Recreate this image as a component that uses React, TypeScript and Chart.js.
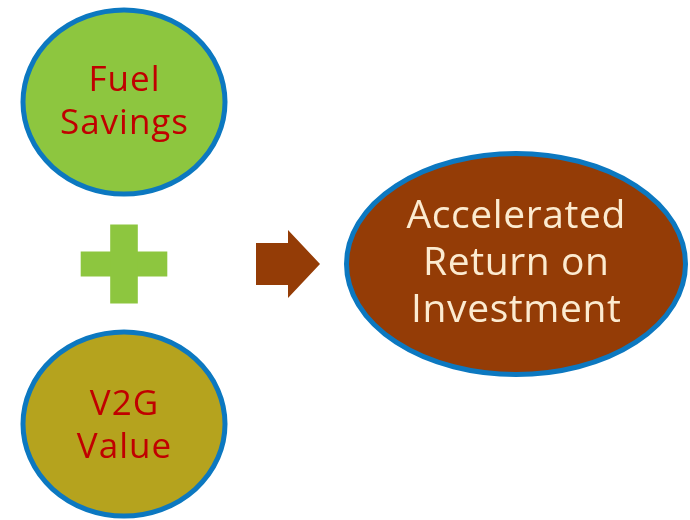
import React, { useEffect, useRef } from "react";
import { Chart, registerables } from "chart.js";

Chart.register(...registerables);

// Diagram coordinate space (one unit per pixel of the 690x520 picture)
const nodeLabels: string[][] = [["Fuel", "Savings"], ["V2G", "Value"], ["Accelerated", "Return on", "Investment"]];
const nodeX = [124, 124, 516];
const nodeY = [102, 424, 264];
const nodeRX = [101, 101, 169.5];
const nodeRY = [92, 92, 110.5];
const nodeFill = ["#8DC63F", "#B5A31E", "#943C06"];
const nodeText = ["#C00000", "#C00000", "#FCEBD0"];
const nodeFont = [35, 35, 39];
const nodeSpacing = [1, 1, 0.6];
const nodeLine = [43, 43, 47];
const nodeTextDy = [-1.5, 0, -2.5];

// plus sign: center, horizontal half-length/half-thickness, vertical half-length/half-thickness
const plusCenter = [124, 264];
const plusArms = [43.3, 12.5, 39.5, 13.8];
// arrow: shaft x0, head base x, tip x, center y, shaft half height, head half height
const arrowShape = [256, 288, 320, 264, 21, 34];

const BORDER = "#0C78C0";

const diagramPlugin = {
  id: "diagram",
  afterDatasetsDraw(chart: any) {
    const { ctx } = chart;
    const xs = chart.scales.x;
    const ys = chart.scales.y;
    const px = (v: number) => xs.getPixelForValue(v);
    const py = (v: number) => ys.getPixelForValue(v);
    ctx.save();
    // plus sign
    const [pcx, pcy] = plusCenter;
    const [hl, ht, vl, vt] = plusArms;
    ctx.fillStyle = "#8DC63F";
    ctx.fillRect(px(pcx - hl), py(pcy - ht), px(pcx + hl) - px(pcx - hl), py(pcy + ht) - py(pcy - ht));
    ctx.fillRect(px(pcx - vt), py(pcy - vl), px(pcx + vt) - px(pcx - vt), py(pcy + vl) - py(pcy - vl));
    // arrow
    const [ax0, ax1, ax2, acy, sh, hh] = arrowShape;
    ctx.fillStyle = "#943C06";
    ctx.beginPath();
    ctx.moveTo(px(ax0), py(acy - sh));
    ctx.lineTo(px(ax1), py(acy - sh));
    ctx.lineTo(px(ax1), py(acy - hh));
    ctx.lineTo(px(ax2), py(acy));
    ctx.lineTo(px(ax1), py(acy + hh));
    ctx.lineTo(px(ax1), py(acy + sh));
    ctx.lineTo(px(ax0), py(acy + sh));
    ctx.closePath();
    ctx.fill();
    // nodes
    for (let i = 0; i < nodeX.length; i++) {
      const cx = px(nodeX[i]);
      const cy = py(nodeY[i]);
      const rx = Math.abs(px(nodeX[i] + nodeRX[i]) - cx);
      const ry = Math.abs(py(nodeY[i] + nodeRY[i]) - cy);
      ctx.beginPath();
      ctx.ellipse(cx, cy, rx, ry, 0, 0, Math.PI * 2);
      ctx.fillStyle = nodeFill[i];
      ctx.fill();
      ctx.lineWidth = 5;
      ctx.strokeStyle = BORDER;
      ctx.stroke();
      const fs = nodeFont[i];
      ctx.font = `${fs}px "Open Sans", sans-serif`;
      try {
        (ctx as any).letterSpacing = `${nodeSpacing[i]}px`;
      } catch (e) {}
      ctx.fillStyle = nodeText[i];
      ctx.textAlign = "center";
      ctx.textBaseline = "alphabetic";
      const lines = nodeLabels[i];
      const cap = fs * 0.714;
      for (let j = 0; j < lines.length; j++) {
        const by = cy + nodeTextDy[i] + (j - (lines.length - 1) / 2) * nodeLine[i] + cap / 2;
        ctx.fillText(lines[j], cx + nodeSpacing[i] / 2, by);
      }
      try {
        (ctx as any).letterSpacing = "0px";
      } catch (e) {}
    }
    ctx.restore();
  },
};

export default function App() {
  const ref = useRef<HTMLCanvasElement | null>(null);
  useEffect(() => {
    if (!ref.current) return;
    const chart = new Chart(ref.current, {
      type: "scatter",
      data: {
        datasets: [
          {
            label: "nodes",
            data: nodeX.map((x, i) => ({ x, y: nodeY[i] })),
            pointRadius: 0,
            pointHoverRadius: 0,
          },
        ],
      },
      options: {
        animation: false,
        responsive: true,
        maintainAspectRatio: false,
        layout: { padding: 0 },
        events: [],
        plugins: { legend: { display: false }, tooltip: { enabled: false }, title: { display: false } },
        scales: {
          x: { type: "linear", min: 0, max: 690, display: false },
          y: { type: "linear", min: 0, max: 520, reverse: true, display: false },
        },
      },
      plugins: [diagramPlugin],
    });
    return () => chart.destroy();
  }, []);
  return (
    <div style={{ position: "absolute", left: 0, top: 0, width: 690, height: 520, background: "#fff" }}>
      <canvas ref={ref} />
    </div>
  );
}
